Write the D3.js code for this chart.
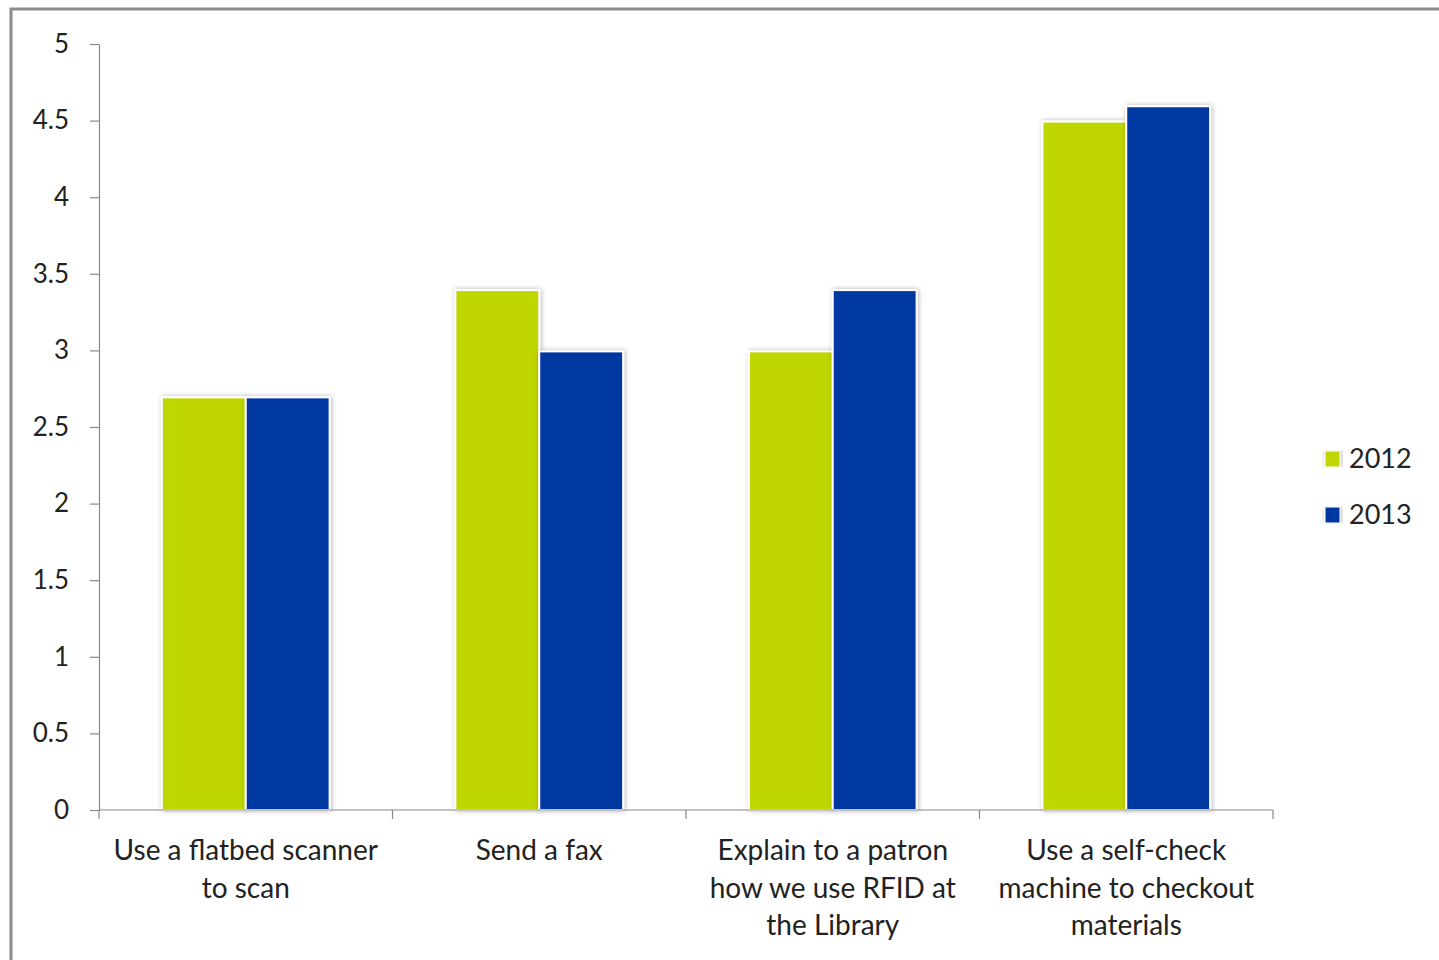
<!DOCTYPE html>
<html>
<head>
<meta charset="utf-8">
<script src="https://cdn.jsdelivr.net/npm/d3@7"></script>
<style>
  html, body { margin: 0; padding: 0; background: #fff; }
  svg { display: block; }
  text { font-family: Lato, "Open Sans", sans-serif; fill: #222; }
</style>
</head>
<body>
<svg id="chart" width="1439" height="960"></svg>
<script>
// Survey categories (each label split into lines) and average ratings per year
const categories = [
  ["Use a flatbed scanner", "to scan"],
  ["Send a fax"],
  ["Explain to a patron", "how we use RFID at", "the Library"],
  ["Use a self-check", "machine to checkout", "materials"]
];
const seriesNames = ["2012", "2013"];
const values2012 = [2.7, 3.4, 3.0, 4.5];
const values2013 = [2.7, 3.0, 3.4, 4.6];
const yTicks = [0, 0.5, 1, 1.5, 2, 2.5, 3, 3.5, 4, 4.5, 5];
const colors = ["#bfd600", "#0037a2"];

const svg = d3.select("#chart");

// Outer frame
svg.append("path")
  .attr("d", "M11,960 V9 H1439")
  .attr("fill", "none")
  .attr("stroke", "#8c8c8c")
  .attr("stroke-width", 3);

const plot = { left: 99, right: 1273, top: 44, bottom: 810 };

const x = d3.scaleBand()
  .domain(d3.range(categories.length))
  .range([plot.left, plot.right])
  .paddingInner(0)
  .paddingOuter(0);

const inner = d3.scaleBand()
  .domain(seriesNames)
  .range([0, x.bandwidth()])
  .paddingOuter(0.75)
  .paddingInner(0);

const y = d3.scaleLinear().domain([0, 5]).range([plot.bottom, plot.top]);

// Soft shadow under bars
const defs = svg.append("defs");
const f = defs.append("filter").attr("id", "barShadow")
  .attr("x", "-20%").attr("y", "-5%").attr("width", "140%").attr("height", "110%");
f.append("feDropShadow")
  .attr("dx", 1).attr("dy", 0).attr("stdDeviation", 2.5)
  .attr("flood-color", "#000").attr("flood-opacity", 0.3);

// Y axis
const yAxis = d3.axisLeft(y).tickValues(yTicks).tickSize(9).tickSizeOuter(0)
  .tickFormat(d => String(d));
const gy = svg.append("g").attr("transform", `translate(${plot.left},0)`).call(yAxis);
gy.select(".domain").attr("stroke", "#888").attr("stroke-width", 1.2);
gy.selectAll(".tick line").attr("stroke", "#888").attr("stroke-width", 1.2);
gy.selectAll(".tick text")
  .attr("x", -30)
  .style("font-size", "26px")
  .style("font-family", "Lato, 'Open Sans', sans-serif")
  .attr("fill", "#222");

// Bars
const rows = categories.map((c, i) => ({ i, vals: [values2012[i], values2013[i]] }));
const groups = svg.append("g").selectAll("g").data(rows).join("g")
  .attr("transform", d => `translate(${x(d.i)},0)`);
groups.selectAll("rect")
  .data(d => d.vals.map((v, k) => ({ v, k })))
  .join("rect")
  .attr("x", d => inner(seriesNames[d.k]))
  .attr("width", inner.bandwidth())
  .attr("y", d => y(d.v) + 1)
  .attr("height", d => y(0) - y(d.v) - 1)
  .attr("fill", d => colors[d.k])
  .attr("stroke", "#fff")
  .attr("stroke-width", 2)
  .attr("filter", "url(#barShadow)");

// X axis with ticks at category boundaries
const boundaries = d3.range(categories.length + 1).map(i => plot.left + i * x.bandwidth());
const gx = svg.append("g");
gx.append("line")
  .attr("x1", plot.left).attr("x2", plot.right)
  .attr("y1", plot.bottom).attr("y2", plot.bottom)
  .attr("stroke", "#888").attr("stroke-width", 1.2);
gx.selectAll("line.tk").data(boundaries).join("line")
  .attr("class", "tk")
  .attr("x1", d => d).attr("x2", d => d)
  .attr("y1", plot.bottom).attr("y2", plot.bottom + 9)
  .attr("stroke", "#888").attr("stroke-width", 1.2);

// Category labels
const labels = svg.append("g").selectAll("text").data(categories).join("text")
  .attr("text-anchor", "middle")
  .style("font-size", "28px")
  .attr("transform", (d, i) => `translate(${x(i) + x.bandwidth() / 2},860)`);
labels.selectAll("tspan").data(d => d).join("tspan")
  .attr("x", 0)
  .attr("y", (d, j) => j * 37.5)
  .text(d => d);

// Legend
const legend = svg.append("g").selectAll("g").data(seriesNames).join("g")
  .attr("transform", (d, i) => `translate(1325,${451 + i * 56})`);
legend.append("rect")
  .attr("width", 15).attr("height", 16)
  .attr("fill", (d, i) => colors[i])
  .attr("stroke", "#fff").attr("stroke-width", 1)
  .attr("filter", "url(#barShadow)");
legend.append("text")
  .attr("x", 24).attr("y", 17)
  .style("font-size", "27px")
  .text(d => d);
</script>
</body>
</html>
